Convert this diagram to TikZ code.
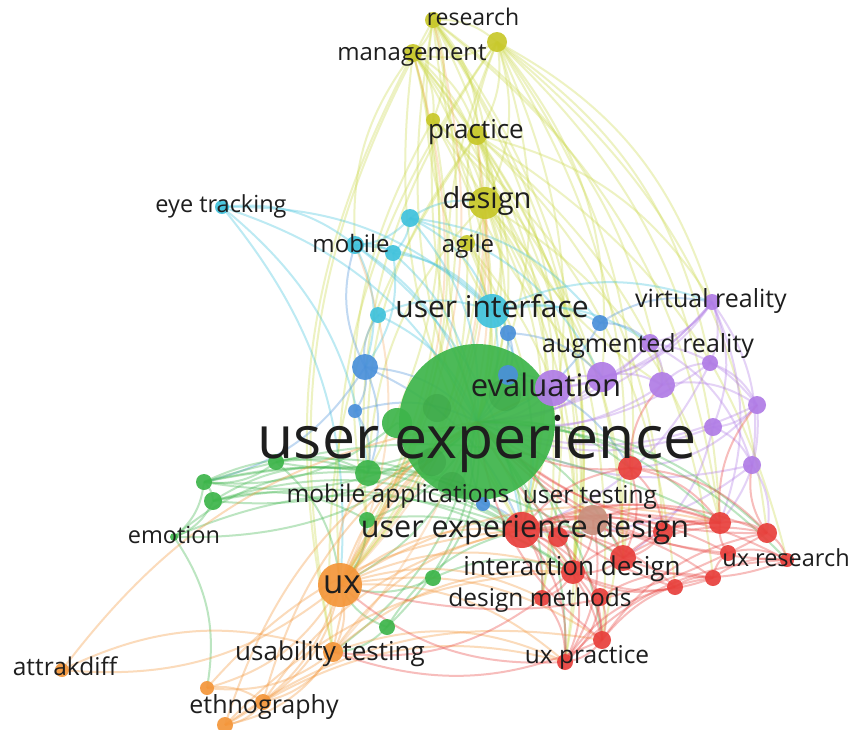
\documentclass[tikz,border=0pt]{standalone}
\usepackage{fontspec}
\setmainfont{Open Sans}
\begin{document}
\definecolor{cYel}{HTML}{C8C82A}
\definecolor{eYel}{HTML}{CDDA4E}
\definecolor{cCyan}{HTML}{40C2DC}
\definecolor{cBlue}{HTML}{4A90DA}
\definecolor{cPurp}{HTML}{B07CE6}
\definecolor{cGreen}{HTML}{3DB54A}
\definecolor{cOrange}{HTML}{F4963A}
\definecolor{cRed}{HTML}{E8403C}
\definecolor{cBrown}{HTML}{C9907E}
\definecolor{txt}{HTML}{1E1E1E}
\begin{tikzpicture}[x=1pt,y=-1pt,
  edge/.style={line width=2pt,opacity=0.34},
  yedge/.style={edge,draw=eYel},
  cedge/.style={edge,draw=cCyan},
  bedge/.style={edge,draw=cBlue},
  pedge/.style={edge,draw=cPurp},
  gedge/.style={edge,draw=cGreen},
  oedge/.style={edge,draw=cOrange},
  redge/.style={edge,draw=cRed},
  ball/.style={opacity=0.92},
  lbl/.style={anchor=base,inner sep=0pt,text=txt}]
\fill[white] (0,0) rectangle (853,729);
\useasboundingbox (0,0) rectangle (853,729);

% ---- item positions ----
\foreach \n/\x/\y in {
  y1/433/20, y2/497/42, y3/413/53, y5/433/120, y6/477/135, y7/485/203, y8/467/243,
  c1/222/207, c2/410/218, c3/355/245, c4/393/253, c5/492/311, c6/378/315,
  b1/365/367, b2/355/411, b3/508/333, b4/508/375, b5/600/323, b6/483/504,
  p1/712/302, p2/650/343, p3/553/388, p4/602/377, p5/662/385, p6/710/363, p7/757/405, p8/713/427, p9/752/465,
  g0/477/422, g1/397/423, g2/368/473, g3/276/462, g4/204/482, g5/213/501, g6/367/520, g7/433/578, g8/387/627, g9/174/537,
  o1/340/585, o2/333/652, o3/62/670, o4/207/688, o5/263/702, o6/225/725,
  r1/522/530, r2/630/468, r3/593/520, r4/558/537, r5/623/558, r6/573/572, r7/600/597, r8/542/598, r9/602/640,
  r10/565/662, r11/675/587, r12/713/578, r13/728/553, r14/720/523, r15/767/533, r16/787/560, r17/663/532}
  \coordinate (\n) at (\x,\y);

% ---- links ----
\foreach \a/\b in {y1/y2,y1/y3,y2/y3,y1/y5,y1/y6,y2/y6,y3/y6,y3/y5,y1/y7,y2/y7,y3/y7,y5/y7,y6/y7,y7/y8,
  y1/g0,y2/g0,y3/g0,y5/g0,y6/g0,y7/g0,y8/g0,y1/o1,y3/o1,y2/r1,y1/r6,y3/r6,y2/r5,y6/r1,y7/r1,y7/c5,
  y7/p3,y2/p1,y2/r14,y1/r10,y6/o1,y5/o1,y7/o1,y3/g2,y2/p4,y6/r6,y7/r6,y3/r8,y1/r8,y5/r5,y6/r17,y8/r1,y8/o1,
  y1/r14,y2/r15,y3/r9,y5/r10,y6/r12,y2/p6,y1/p5,y6/p1,y7/r5,y7/r14,y8/r6,y2/r9,y5/r11,y6/r16}
  \draw[yedge] (\a) to[bend left=22] (\b);
\foreach \a/\b in {y2/g0,y1/r1,y3/r1,y5/r6,y6/g2,y7/g2,y2/o1,y1/p4,y6/p5,y3/c3,y1/c5,y2/c5,y3/o2,y1/o2,
  y5/g6,y6/o2,y2/g6}
  \draw[yedge] (\a) to[bend right=20] (\b);
\foreach \a/\b in {c1/c3,c1/g0,c1/c5,c1/o1,c2/c3,c2/c4,c3/c4,c2/c5,c3/c5,c4/c5,c3/g0,c2/g0,c4/b1,c5/g0,
  c6/c5,c6/g0,c5/b3,c5/p2,c5/b5,c2/y7,c5/r1,c3/b1,c4/g0,c5/p1,c2/p4,c3/r1,c1/g2,c2/b5}
  \draw[cedge] (\a) to[bend left=22] (\b);
\foreach \a/\b in {b1/b2,b1/g0,b1/c3,b2/g0,b3/g0,b4/g0,b5/g0,b5/p1,b3/b4,b4/p3,b1/c6,b6/g0,b6/r1,b1/g4,
  b2/g2,b5/p2,b1/r1,b4/r2,b3/p4,b1/g2}
  \draw[bedge] (\a) to[bend left=22] (\b);
\foreach \a/\b in {p1/p2,p1/p6,p1/p4,p1/g0,p1/p3,p2/p5,p2/p3,p3/p4,p4/p5,p5/p6,p5/p7,p6/p7,p7/p8,p8/p9,
  p3/g0,p4/g0,p5/g0,p6/g0,p7/g0,p8/g0,p9/g0,p1/r14,p9/r15,p7/r2,p6/r1,p1/p9,p2/g0,p9/r1,p8/r5,p7/r14,p2/p7,
  p1/p8,p2/p9}
  \draw[pedge] (\a) to[bend left=22] (\b);
\foreach \a/\b in {g0/g1,g0/g2,g0/g3,g0/g4,g0/g5,g0/g6,g0/g7,g0/g8,g0/g9,g3/g4,g4/g5,g5/g2,g5/g9,g4/g9,
  g3/g2,g4/g2,g5/g6,g9/g2,g9/r1,g5/r1,g4/r1,g2/r1,g6/o1,g7/o1,g8/o1,g8/o2,g9/o4,g3/o1,g7/r6,g8/r1,
  g0/o1,g0/r1,g0/r5,g0/r6,g0/r2,g0/r14,g0/r15,g0/r10,g0/r8,g0/r9,g0/r16,g6/r6,g0/o2,g4/r5,g1/g4,g3/r1,
  g5/r6,g4/r14}
  \draw[gedge] (\a) to[bend left=22] (\b);
\foreach \a/\b in {o1/o2,o1/o3,o1/o4,o1/o5,o1/o6,o2/o4,o2/o5,o2/o6,o4/o5,o5/o6,o3/o2,o1/g0,o1/r1,o1/r6,
  o1/r8,o1/r9,o1/r10,o2/r1,o2/r6,o2/r10,o5/r1,o6/r6,o1/g2,o2/g0,o5/g0,o1/p3,o1/r14,o3/g0,o4/r1,o6/g0,
  o5/r10,o6/r9}
  \draw[oedge] (\a) to[bend left=22] (\b);
% long arcs from ux up to the top group, bulging to the left
\foreach \a/\b in {o1/y7,o1/y6,o1/y3,o1/y1,o2/y7,o1/c3}
  \draw[oedge,opacity=0.25] (\a) to[bend right=24] (\b);
\foreach \a/\b in {r1/r2,r1/r3,r1/r4,r1/r5,r1/r6,r1/r7,r1/r8,r1/r9,r1/r10,r1/r11,r1/r12,r1/r13,r1/r14,
  r1/r15,r1/r16,r1/r17,r2/r14,r2/r15,r2/r5,r3/r5,r3/r6,r4/r6,r5/r6,r5/r14,r5/r15,r6/r8,r6/r9,r6/r10,
  r7/r9,r7/r10,r8/r10,r9/r10,r11/r12,r12/r13,r13/r14,r14/r15,r15/r16,r13/r16,r12/r16,r11/r6,r9/r12,
  r10/r11,r17/r14,r17/r5,r2/r17,r3/r14,r16/r5,r12/r6,r2/g0,r14/g0,r15/g0,r16/g0,r13/g0,r11/g0,r9/g0,
  r10/o1,r9/o2,r15/o1,r8/o2,r2/p5,r14/p7,r15/p9,r10/r16,r9/r15,r4/r9,r3/r10,r7/r12,r8/r14}
  \draw[redge] (\a) to[bend left=22] (\b);

% ---- items ----
\fill[cGreen,ball] (g0) circle (78);
\fill[cGreen,ball] (g1) circle (15);
\fill[cGreen!85!black,opacity=0.35] (437,408) circle (14);
\fill[cGreen!85!black,opacity=0.35] (432,462) circle (14);
\fill[cGreen!85!black,opacity=0.35] (452,486) circle (14);
\fill[cGreen!85!black,opacity=0.3] (505,395) circle (16);
\foreach \n/\r in {g2/13,g3/8,g4/8,g5/9,g6/8,g7/8,g8/8,g9/4}
  \fill[cGreen,ball] (\n) circle (\r);
\foreach \n/\r in {y1/8,y2/10,y3/9,y5/7,y6/10,y7/16,y8/8}
  \fill[cYel,ball] (\n) circle (\r);
\foreach \n/\r in {c1/7,c2/9,c3/9,c4/8,c5/17,c6/8}
  \fill[cCyan,ball] (\n) circle (\r);
\foreach \n/\r in {b1/13,b2/7,b3/8,b4/10,b5/8,b6/7}
  \fill[cBlue,ball] (\n) circle (\r);
\foreach \n/\r in {p1/8,p2/9,p3/18,p4/15,p5/13,p6/8,p7/9,p8/9,p9/9}
  \fill[cPurp,ball] (\n) circle (\r);
\foreach \n/\r in {o1/22,o2/10,o3/7,o4/7,o5/8,o6/8}
  \fill[cOrange,ball] (\n) circle (\r);
\foreach \n/\r in {r1/18,r2/12,r4/10,r5/13,r6/12,r7/9,r8/8,r9/9,r10/8,r11/8,r12/8,r13/8,r14/11,r15/10,r16/7,r17/10}
  \fill[cRed,ball] (\n) circle (\r);
\fill[cBrown,ball] (r3) circle (15);

% ---- labels ----
\node[lbl,font=\fontsize{23}{23}\selectfont] (Lresearch) at (473,25) {research};
\node[lbl,font=\fontsize{24}{24}\selectfont] (Lmanagement) at (412,60) {management};
\node[lbl,font=\fontsize{26}{26}\selectfont] (Lpractice) at (476,138) {practice};
\node[lbl,font=\fontsize{29}{29}\selectfont] (Ldesign) at (487,208) {design};
\node[lbl,font=\fontsize{24}{24}\selectfont] (Lagile) at (468,252) {agile};
\node[lbl,font=\fontsize{23.5}{24}\selectfont] (Leye) at (221,212) {eye tracking};
\node[lbl,font=\fontsize{24}{24}\selectfont] (Lmobile) at (351,252) {mobile};
\node[lbl,font=\fontsize{30}{30}\selectfont] (Lui) at (492,317) {user interface};
\node[lbl,font=\fontsize{25}{25}\selectfont] (Lvr) at (711,307) {virtual reality};
\node[lbl,font=\fontsize{25}{25}\selectfont] (Lar) at (648,352) {augmented reality};
\node[lbl,font=\fontsize{31}{31}\selectfont] (Leval) at (546,396) {evaluation};
\node[lbl,font=\fontsize{59}{59}\selectfont] (Lux0) at (477,458) {user experience};
\node[lbl,font=\fontsize{24.5}{25}\selectfont] (Lmobapp) at (398,502) {mobile applications};
\node[lbl,font=\fontsize{24.5}{25}\selectfont] (Lusertest) at (590,503) {user testing};
\node[lbl,font=\fontsize{30.5}{31}\selectfont] (Luxd) at (525,537) {user experience design};
\node[lbl,font=\fontsize{26}{26}\selectfont] (Lixd) at (572,575) {interaction design};
\node[lbl,font=\fontsize{24.5}{25}\selectfont] (Ldm) at (540,606) {design methods};
\node[lbl,font=\fontsize{24.5}{25}\selectfont] (Luxp) at (587,663) {ux practice};
\node[lbl,font=\fontsize{23.5}{24}\selectfont] (Luxr) at (786,566) {ux research};
\node[lbl,font=\fontsize{23.5}{24}\selectfont] (Lemo) at (174,543) {emotion};
\node[lbl,font=\fontsize{33}{33}\selectfont] (Lux) at (342,593) {ux};
\node[lbl,font=\fontsize{26}{26}\selectfont] (Lusab) at (330,660) {usability testing};
\node[lbl,font=\fontsize{24.5}{25}\selectfont] (Latt) at (65,675) {attrakdiff};
\node[lbl,font=\fontsize{25}{25}\selectfont] (Leth) at (264,713) {ethnography};
\end{tikzpicture}
\end{document}
